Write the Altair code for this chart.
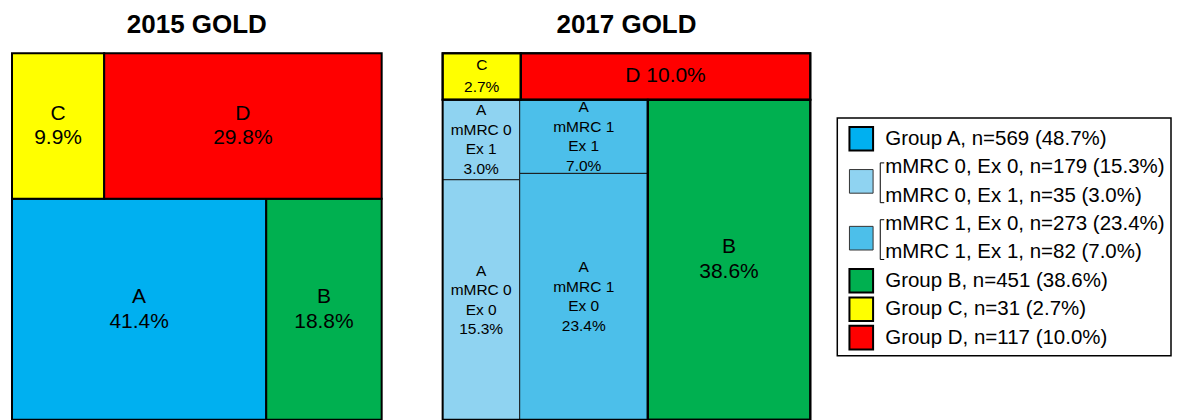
import altair as alt
import pandas as pd

# ---------------- data ----------------
GROUPS = ["A", "B", "C", "D"]
PCT_2015 = [41.4, 18.8, 9.9, 29.8]
N_2017 = [569, 451, 31, 117]
PCT_2017 = [48.7, 38.6, 2.7, 10.0]
SUB_MMRC = [0, 0, 1, 1]
SUB_EX = [0, 1, 0, 1]
SUB_N = [179, 35, 273, 82]
SUB_PCT = [15.3, 3.0, 23.4, 7.0]
TITLES = ["2015 GOLD", "2017 GOLD"]

COLORS = {"A": "#00B0F0", "B": "#00B050", "C": "#FFFF00", "D": "#FF0000"}
SUB_COLORS = {0: "#8FD3F1", 1: "#4CBFEA"}
FONT = "Liberation Sans"
MIN_LABEL_SHARE = 0.25  # very small sub-cells are enlarged to hold their label

W1, W2, H = 370, 368, 367


def group_layout(pct):
    p = dict(zip(GROUPS, pct))
    total = sum(pct)
    top = p["C"] + p["D"]
    h = top / total * 100
    cw = p["C"] / top * 100
    aw = p["A"] / (p["A"] + p["B"]) * 100
    return {"C": (0, cw, 0, h), "D": (cw, 100, 0, h),
            "A": (0, aw, h, 100), "B": (aw, 100, h, 100)}


def cell(x0, x1, y0, y1, color, label, lh=0):
    n = label.count("\n")
    # shift so that a multi-line label is centred as a block
    yc = (y0 + y1) / 2 - n * lh / 2 / H * 100
    return dict(x0=x0, x1=x1, y0=y0, y1=y1, color=color, label=label,
                xc=(x0 + x1) / 2, yc=yc)


LH_BIG, LH_C, LH_SUB = 25, 22, 19.5

# 2015 cells
lay15 = group_layout(PCT_2015)
cells15 = [cell(*lay15[g], COLORS[g], f"{g}\n{p:.1f}%", LH_BIG) for g, p in zip(GROUPS, PCT_2015)]

# 2017 cells
lay17 = group_layout(PCT_2017)
p17 = dict(zip(GROUPS, PCT_2017))
big17, small17, sub17 = [], [], []
for g in GROUPS:
    if g == "A":
        continue
    if g == "D":
        big17.append(cell(*lay17[g], COLORS[g], f"{g} {p17[g]:.1f}%", LH_BIG))
    elif g == "C":
        small17.append(cell(*lay17[g], COLORS[g], f"{g}\n{p17[g]:.1f}%", LH_C))
    else:
        big17.append(cell(*lay17[g], COLORS[g], f"{g}\n{p17[g]:.1f}%", LH_BIG))

ax0, ax1, ay0, ay1 = lay17["A"]
a_sum = sum(SUB_PCT)
cx = ax0
for m in sorted(set(SUB_MMRC)):
    idx = [i for i in range(len(SUB_MMRC)) if SUB_MMRC[i] == m]
    col_sum = sum(SUB_PCT[i] for i in idx)
    cw = col_sum / a_sum * (ax1 - ax0)
    ex1 = [i for i in idx if SUB_EX[i] == 1][0]
    ex0 = [i for i in idx if SUB_EX[i] == 0][0]
    share = SUB_PCT[ex1] / col_sum
    if share < 0.2:
        share = MIN_LABEL_SHARE
    ymid = ay0 + share * (ay1 - ay0)
    for i, (y0, y1) in ((ex1, (ay0, ymid)), (ex0, (ymid, ay1))):
        sub17.append(cell(cx, cx + cw, y0, y1, SUB_COLORS[m],
                          f"A\nmMRC {m}\nEx {SUB_EX[i]}\n{SUB_PCT[i]:.1f}%", LH_SUB))
    cx += cw
outline17 = [cell(*lay17[g], COLORS[g], g) for g in GROUPS]

xs = alt.Scale(domain=[0, 100], nice=False, zero=False)
ys = alt.Scale(domain=[0, 100], nice=False, zero=False, reverse=True)


def rects(df, sw, stroke="black"):
    return alt.Chart(df).mark_rect(stroke=stroke, strokeWidth=sw).encode(
        x=alt.X("x0:Q", scale=xs, axis=None), x2="x1:Q",
        y=alt.Y("y0:Q", scale=ys, axis=None), y2="y1:Q",
        color=alt.Color("color:N", scale=None))


def labels(df, size, lh):
    return alt.Chart(df).mark_text(font=FONT, fontSize=size, lineBreak="\n", lineHeight=lh,
                                   align="center", baseline="middle", color="black").encode(
        x=alt.X("xc:Q", scale=xs, axis=None), y=alt.Y("yc:Q", scale=ys, axis=None),
        text="label:N")


def title(t):
    return alt.TitleParams(t, font=FONT, fontSize=26, fontWeight="bold", color="black",
                           anchor="middle", offset=14)


df15 = pd.DataFrame(cells15)
panel15 = alt.layer(rects(df15, 2), labels(df15, 21, LH_BIG)).properties(
    width=W1, height=H, title=title(TITLES[0]))

dfb = pd.DataFrame(big17)
dfs = pd.DataFrame(small17)
dfsub = pd.DataFrame(sub17)
dfo = pd.DataFrame(outline17)
outline = alt.Chart(dfo).mark_rect(fillOpacity=0, stroke="black", strokeWidth=2).encode(
    x=alt.X("x0:Q", scale=xs, axis=None), x2="x1:Q",
    y=alt.Y("y0:Q", scale=ys, axis=None), y2="y1:Q")
panel17 = alt.layer(
    rects(dfb, 2), rects(dfs, 2), rects(dfsub, 1, "#1a1a1a"), outline,
    labels(dfb, 21, LH_BIG), labels(dfs, 15.5, LH_C), labels(dfsub, 15.5, LH_SUB),
).properties(width=W2, height=H, title=title(TITLES[1]))

# ---------------- legend ----------------
leg_text = [f"Group A, n={N_2017[0]} ({PCT_2017[0]:.1f}%)"]
for i in range(len(SUB_N)):
    leg_text.append(f"mMRC {SUB_MMRC[i]}, Ex {SUB_EX[i]}, n={SUB_N[i]} ({SUB_PCT[i]:.1f}%)")
for g in ["B", "C", "D"]:
    k = GROUPS.index(g)
    leg_text.append(f"Group {g}, n={N_2017[k]} ({PCT_2017[k]:.1f}%)")
leg_rows = pd.DataFrame({"row": list(range(len(leg_text))), "text": leg_text})

sym = pd.DataFrame({
    "row": [0, 1.5, 3.5, 5, 6, 7],
    "fill": [COLORS["A"], SUB_COLORS[0], SUB_COLORS[1], COLORS["B"], COLORS["C"], COLORS["D"]],
    "sw": [2, 1, 1, 2, 2, 2],
    "sc": ["black", "#333333", "#333333", "black", "black", "black"],
})
brk = pd.DataFrame({"yt": [1 - 0.15, 3 - 0.15], "yb": [2 + 0.25, 4 + 0.25]})
box = pd.DataFrame({"y0": [0 - 0.73], "y1": [len(leg_text) - 1 + 0.64]})

SPACING = 61
BX = -34                   # legend box begins 27px right of the second panel
BOXW = 334
LW = BOXW + BX
ly = alt.Scale(domain=[-3.014, 9.894], nice=False, zero=False, reverse=True)

leg_box = alt.Chart(box).mark_rect(fillOpacity=0, stroke="black", strokeWidth=1.5).encode(
    x=alt.value(BX), x2=alt.value(BX + BOXW),
    y=alt.Y("y0:Q", scale=ly, axis=None), y2="y1:Q")
leg_sym = alt.Chart(sym).mark_square(size=560, filled=True, opacity=1).encode(
    x=alt.value(BX + 24), y=alt.Y("row:Q", scale=ly, axis=None),
    fill=alt.Fill("fill:N", scale=None), stroke=alt.Stroke("sc:N", scale=None),
    strokeWidth=alt.StrokeWidth("sw:Q", scale=None))
leg_lbl = alt.Chart(leg_rows).mark_text(font=FONT, fontSize=20.5, align="left",
                                        baseline="middle", color="black").encode(
    x=alt.value(BX + 48), y=alt.Y("row:Q", scale=ly, axis=None), text="text:N")
brk_v = alt.Chart(brk).mark_rule(color="black", strokeWidth=1).encode(
    x=alt.value(BX + 43), y=alt.Y("yt:Q", scale=ly, axis=None), y2="yb:Q")
brk_t = alt.Chart(brk).mark_rule(color="black", strokeWidth=1).encode(
    x=alt.value(BX + 43), x2=alt.value(BX + 47), y=alt.Y("yt:Q", scale=ly, axis=None))
brk_b = alt.Chart(brk).mark_rule(color="black", strokeWidth=1).encode(
    x=alt.value(BX + 43), x2=alt.value(BX + 47), y=alt.Y("yb:Q", scale=ly, axis=None))

legend = alt.layer(leg_box, leg_sym, leg_lbl, brk_v, brk_t, brk_b).properties(width=LW, height=H)

chart = alt.hconcat(panel15, panel17, legend, spacing=SPACING, bounds="flush").properties(
    padding={"left": 3, "top": 4, "right": 0, "bottom": 0}
).configure_view(stroke=None)

chart.save("out.html", embed_options={"renderer": "svg", "actions": False})
